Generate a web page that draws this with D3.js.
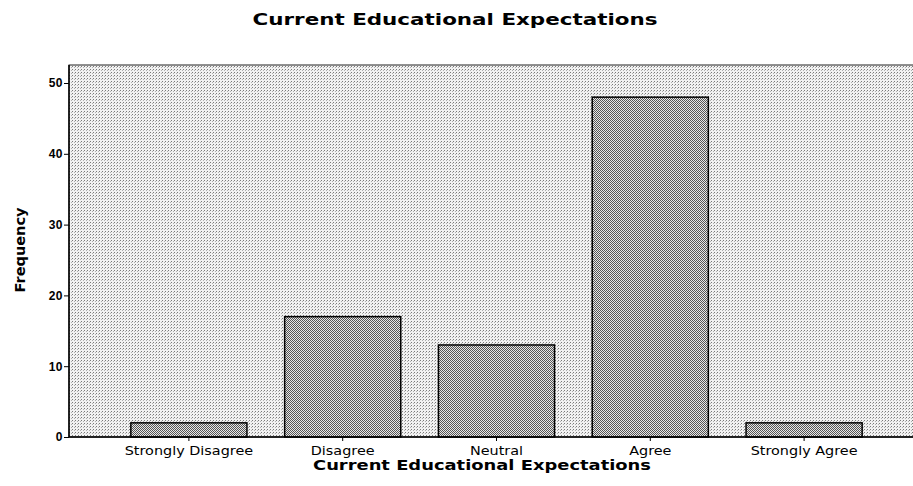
<!DOCTYPE html>
<html>
<head>
<meta charset="utf-8">
<script src="https://cdn.jsdelivr.net/npm/d3@7"></script>
<style>
  body { margin: 0; background: #fff; }
  text { font-family: "DejaVu Sans", "Liberation Sans", Arial, sans-serif; fill: #000; }
</style>
</head>
<body>
<svg id="chart" width="913" height="486"></svg>
<script>
// Data
const categories = ["Strongly Disagree", "Disagree", "Neutral", "Agree", "Strongly Agree"];
const frequencies = [2, 17, 13, 48, 2];
const yTicks = [0, 10, 20, 30, 40, 50];

const svg = d3.select("#chart");

// Plot area (right side runs past the window, as in the scan)
const plot = { left: 69, top: 65, right: 924, bottom: 437 };

const x = d3.scaleBand()
    .domain(categories)
    .range([112, 881])
    .paddingInner(0.245)
    .paddingOuter(0.1225);

const y = d3.scaleLinear()
    .domain([0, 50])
    .range([437, 83]);

// Stipple patterns
const defs = svg.append("defs");
const bgPat = defs.append("pattern")
    .attr("id", "bgDots")
    .attr("width", 3).attr("height", 3)
    .attr("patternUnits", "userSpaceOnUse");
bgPat.append("rect").attr("width", 3).attr("height", 3).attr("fill", "#f2f2f2");
bgPat.append("rect").attr("x", 0).attr("y", 0).attr("width", 1).attr("height", 1).attr("fill", "#7a7a7a");
bgPat.append("rect").attr("x", 2).attr("y", 1).attr("width", 1).attr("height", 1).attr("fill", "#b0b0b0");

const barPat = defs.append("pattern")
    .attr("id", "barDots")
    .attr("width", 2).attr("height", 2)
    .attr("patternUnits", "userSpaceOnUse");
barPat.append("rect").attr("width", 2).attr("height", 2).attr("fill", "#e6e6e6");
barPat.append("rect").attr("x", 0).attr("y", 0).attr("width", 1).attr("height", 1).attr("fill", "#555");
barPat.append("rect").attr("x", 1).attr("y", 1).attr("width", 1).attr("height", 1).attr("fill", "#555");

// Plot background
svg.append("rect")
    .attr("x", plot.left)
    .attr("y", plot.top)
    .attr("width", plot.right - plot.left)
    .attr("height", plot.bottom - plot.top)
    .attr("fill", "url(#bgDots)")
    .attr("stroke", "#222")
    .attr("stroke-width", 1);

// Bars
svg.selectAll(".bar")
    .data(frequencies)
    .enter()
    .append("rect")
    .attr("class", "bar")
    .attr("x", (d, i) => x(categories[i]))
    .attr("y", d => y(d))
    .attr("width", x.bandwidth())
    .attr("height", d => y(0) - y(d))
    .attr("fill", "url(#barDots)")
    .attr("stroke", "#000")
    .attr("stroke-width", 1.5);

// Y axis
const yAxis = svg.append("g")
    .attr("transform", `translate(${plot.left},0)`)
    .call(d3.axisLeft(y).tickValues(yTicks).tickSize(5).tickSizeOuter(0));
yAxis.select(".domain").remove();
yAxis.append("line")
    .attr("x1", 0).attr("x2", 0)
    .attr("y1", plot.top).attr("y2", plot.bottom)
    .attr("stroke", "#000").attr("stroke-width", 1.5);
yAxis.selectAll("text")
    .style("font-family", "'Liberation Sans', Arial, sans-serif")
    .style("font-size", "12px")
    .style("font-weight", "bold")
    .style("letter-spacing", "0.5px")
    .attr("x", -6);

// X axis
const xAxis = svg.append("g")
    .attr("transform", `translate(0,${plot.bottom})`)
    .call(d3.axisBottom(x).tickSize(4).tickSizeOuter(0));
xAxis.select(".domain").remove();
xAxis.append("line")
    .attr("x1", plot.left).attr("x2", plot.right)
    .attr("y1", 0).attr("y2", 0)
    .attr("stroke", "#000").attr("stroke-width", 1.5);
xAxis.selectAll("text")
    .style("font-size", "12px")
    .attr("dy", "0.9em")
    .attr("y", 7)
    .attr("transform", "scale(1.2,1)");

// Titles
svg.append("text")
    .attr("x", 455).attr("y", 25)
    .attr("text-anchor", "middle")
    .attr("textLength", 405)
    .attr("lengthAdjust", "spacingAndGlyphs")
    .style("font-size", "15px")
    .style("font-weight", "bold")
    .text("Current Educational Expectations");

svg.append("text")
    .attr("x", 482).attr("y", 470)
    .attr("text-anchor", "middle")
    .attr("textLength", 338)
    .attr("lengthAdjust", "spacingAndGlyphs")
    .style("font-size", "14px")
    .style("font-weight", "bold")
    .text("Current Educational Expectations");

svg.append("text")
    .attr("transform", "translate(25,250) rotate(-90)")
    .attr("text-anchor", "middle")
    .attr("textLength", 85)
    .attr("lengthAdjust", "spacingAndGlyphs")
    .style("font-size", "14px")
    .style("font-weight", "bold")
    .text("Frequency");
</script>
</body>
</html>
